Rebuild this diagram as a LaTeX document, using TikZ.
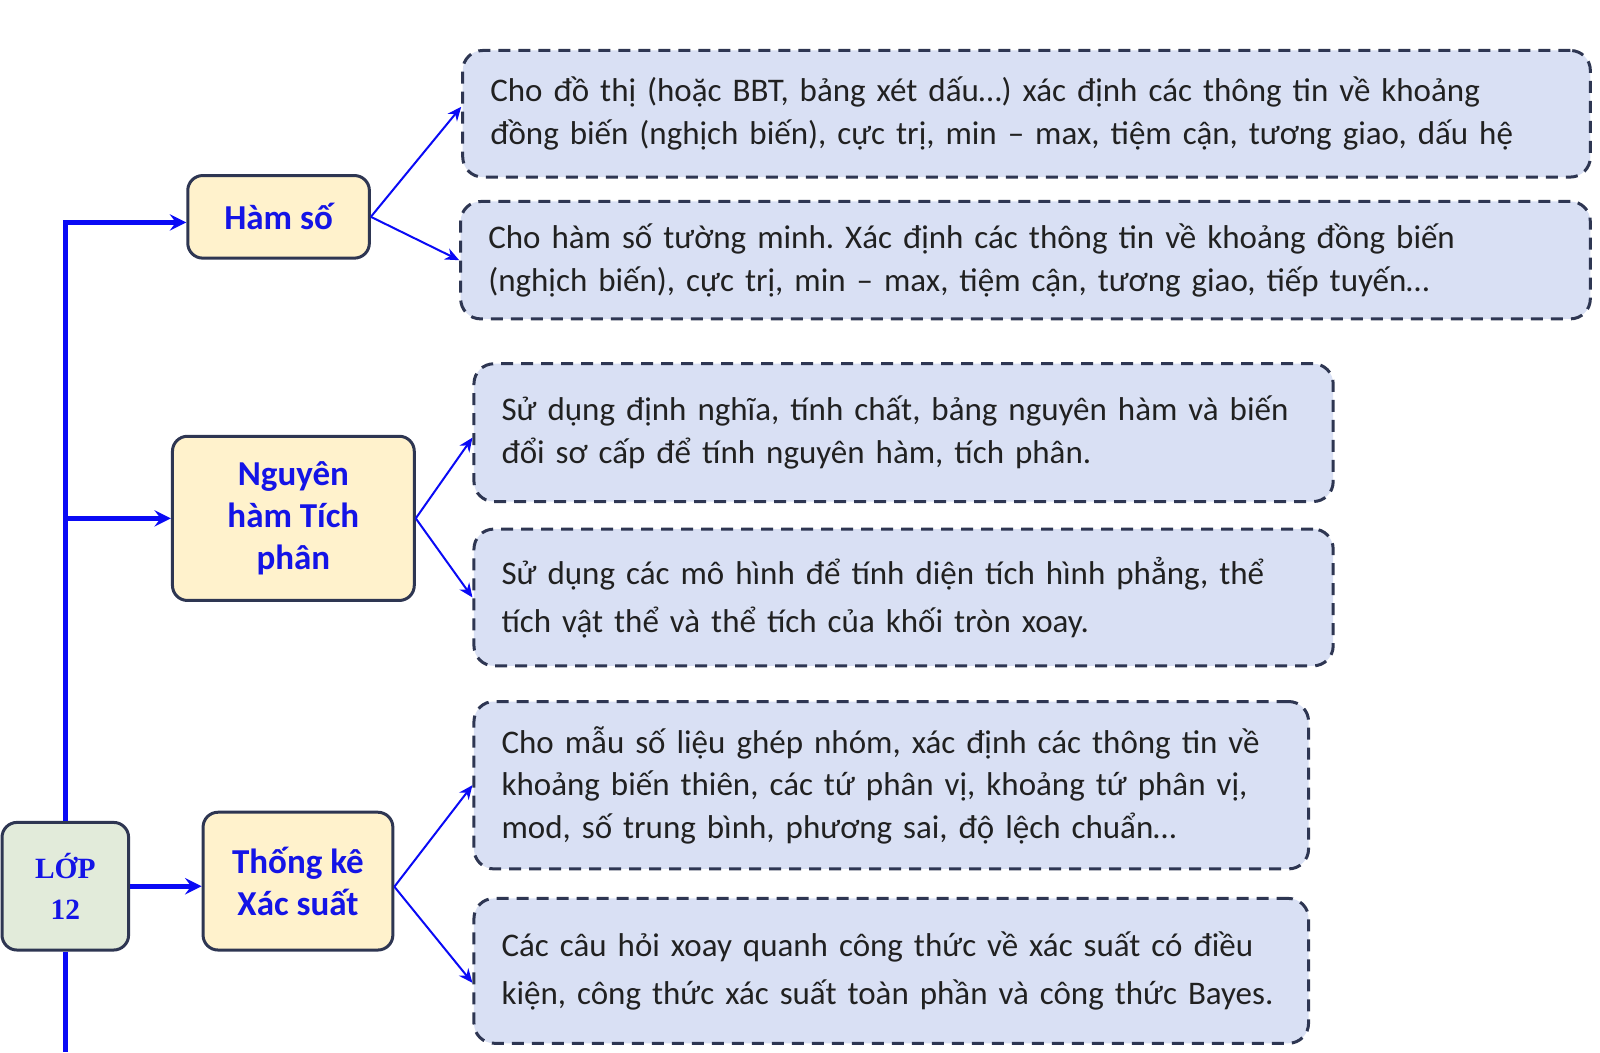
\documentclass[tikz,border=0pt]{standalone}
\usepackage{fontspec}
\setmainfont{Carlito}
\newfontfamily\lopfont{Liberation Serif}
\usetikzlibrary{positioning,arrows.meta}
\frenchspacing
\definecolor{navy}{HTML}{2E3652}
\definecolor{catfill}{HTML}{FFF2CC}
\definecolor{detfill}{HTML}{D9E0F4}
\definecolor{lopfill}{HTML}{E2EBDA}
\definecolor{arrblue}{HTML}{0A0AF5}
\definecolor{txtblue}{HTML}{1414E6}

\tikzset{
  catbox/.style={draw=navy,line width=1.5pt,fill=catfill,rounded corners=7.5pt,
    align=center,text=txtblue,font=\fontsize{17.5}{20.9}\selectfont\bfseries,inner sep=0pt},
  lopbox/.style={draw=navy,line width=1.5pt,fill=lopfill,rounded corners=7.5pt,
    align=center,text=txtblue,font=\lopfont\fontsize{14.7}{20.4}\selectfont\bfseries,inner sep=0pt,
    minimum width=63.3pt,minimum height=63.8pt},
  detailbox/.style={draw=navy,dashed,dash pattern=on 6pt off 4pt,line width=1.5pt,fill=detfill,
    rounded corners=10pt,align=left,anchor=north west,inner xsep=13.8pt,inner ysep=0pt,
    font=\fontsize{16.5}{21.4}\selectfont,text=black!87},
  trunk/.style={arrblue,line width=2.55pt},
  branch/.style={arrblue,line width=1pt,-{Stealth[length=7pt,width=6pt]}}
}

\begin{document}
\begin{tikzpicture}[x=0.5102pt,y=-0.5102pt]
\useasboundingbox (0,0) rectangle (1568,1031);

% main boxes
\node[lopbox] (lop) at (64,868.5) {LỚP\\12};
\node[catbox,minimum width=90.8pt,minimum height=41.3pt] (ham) at (273,212.5) {Hàm số};
\node[catbox,minimum width=120.9pt,minimum height=82.1pt] (nguyen) at (287.5,508) {Nguyên\\hàm Tích\\phân};
\node[catbox,minimum width=94.9pt,minimum height=68.9pt] (thong) at (292,863.5) {Thống kê\\Xác suất};

% detail boxes
\node[detailbox,text width=536.2pt,minimum height=63.3pt] (d1) at (452,48)
  {Cho đồ thị (hoặc BBT, bảng xét dấu…) xác định các thông tin về khoảng\\đồng biến (nghịch biến), cực trị, min – max, tiệm cận, tương giao, dấu hệ};
\node[detailbox,text width=537.2pt,minimum height=58.7pt] (d2) at (450,196)
  {Cho hàm số tường minh. Xác định các thông tin về khoảng đồng biến\\(nghịch biến), cực trị, min – max, tiệm cận, tương giao, tiếp tuyến…};
\node[detailbox,text width=402pt,minimum height=68.9pt] (d3) at (463,355)
  {Sử dụng định nghĩa, tính chất, bảng nguyên hàm và biến\\đổi sơ cấp để tính nguyên hàm, tích phân.};
\node[detailbox,text width=402pt,minimum height=68.4pt,font=\fontsize{16.5}{24}\selectfont] (d4) at (463,517)
  {Sử dụng các mô hình để tính diện tích hình phẳng, thể\\tích vật thể và thể tích của khối tròn xoay.};
\node[detailbox,text width=389.7pt,minimum height=83.7pt] (d5) at (463,686)
  {Cho mẫu số liệu ghép nhóm, xác định các thông tin về\\khoảng biến thiên, các tứ phân vị, khoảng tứ phân vị,\\mod, số trung bình, phương sai, độ lệch chuẩn…};
\node[detailbox,text width=389.7pt,minimum height=72.4pt,font=\fontsize{16.5}{24}\selectfont] (d6) at (463,879)
  {Các câu hỏi xoay quanh công thức về xác suất có điều\\kiện, công thức xác suất toàn phần và công thức Bayes.};

% trunk
\coordinate (bottom) at (65,1031);
\draw[trunk,-stealth] (lop.north) |- ([yshift=-2.8pt]ham.west);
\draw[trunk,-stealth] (lop.north |- nguyen.west) -- (nguyen.west);
\draw[trunk] (lop.south) -- (lop.south |- bottom);
\draw[trunk,-stealth] (lop.east) -- (thong.west |- lop.east);

% branches
\draw[branch] (ham.east) -- ([yshift=3.5pt]d1.west);
\draw[branch] (ham.east) -- (d2.west);
\draw[branch] (nguyen.east) -- ([yshift=-2.5pt]d3.west);
\draw[branch] (nguyen.east) -- (d4.west);
\draw[branch] ([yshift=-2.8pt]thong.east) -- (d5.west);
\draw[branch] ([yshift=-2.8pt]thong.east) -- ([yshift=-6pt]d6.west);
\end{tikzpicture}
\end{document}
